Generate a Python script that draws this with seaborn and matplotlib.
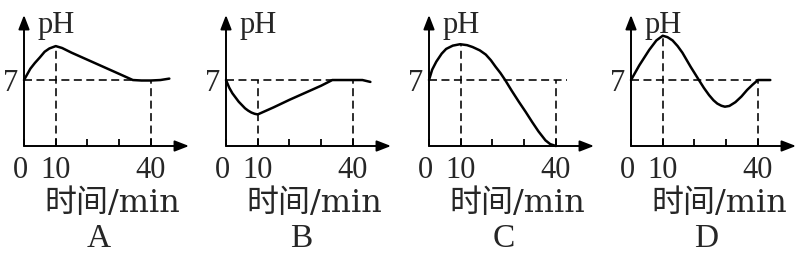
import numpy as np
import pandas as pd
import matplotlib
matplotlib.use('Agg')
import matplotlib.pyplot as plt
import matplotlib.transforms as mtransforms
import seaborn as sns

sns.set_style('white')
plt.rcParams['font.family'] = ['Liberation Serif', 'Noto Sans CJK SC']

# ---------------- data ----------------
panel_letters = ['A', 'B', 'C', 'D']
x_tick_values = [0, 10, 20, 30, 40]
x_tick_labels = ['0', '10', '', '', '40']
y_tick_values = [7]
y_tick_labels = ['7']
x_axis_label = '时间/min'
y_axis_label = 'pH'
neutral_ph = 7
marked_times = [10, 40]

time_a = [0, 1, 2, 3.4, 5, 6.5, 8, 10, 12, 15, 20, 25, 30, 34.3, 37, 40, 43, 45.8]
ph_a = [7, 7.6, 8.2, 8.8, 9.4, 10.0, 10.35, 10.6, 10.4, 9.9, 9.15, 8.4, 7.65, 7.0, 6.95, 6.95, 7.0, 7.15]

time_b = [0, 1, 2, 3, 4, 5, 6, 7, 8, 9, 10, 15, 20, 25, 30, 33.5, 37, 40, 43, 45.5]
ph_b = [7, 6.2, 5.6, 5.15, 4.7, 4.35, 4.0, 3.75, 3.55, 3.42, 3.35, 4.1, 4.9, 5.65, 6.4, 7.0, 7.0, 7.0, 7.0, 6.8]

time_c = [0, 1, 2.3, 4, 5.4, 7.5, 9.8, 12, 13.75, 16, 17.9, 19.5, 21, 22.5, 24, 26, 28.3, 30.5, 32.5, 34.5, 36.7, 38.2, 40]
ph_c = [7, 8.1, 8.95, 9.8, 10.3, 10.65, 10.8, 10.7, 10.5, 10.15, 9.7, 9.1, 8.4, 7.75, 7.0, 5.9, 4.7, 3.6, 2.55, 1.55, 0.6, 0.2, 0.0]

time_d = [0, 2.6, 5.75, 8, 10, 11.5, 13.1, 14.7, 16.2, 17.5, 18.8, 20.1, 21.4, 23, 24.6, 26, 27.2, 28.5, 29.6, 31, 32.9, 34.8, 36.6, 38.3, 40, 42, 43.9]
ph_d = [7, 8.55, 10.2, 11.2, 11.7, 11.55, 11.2, 10.6, 9.9, 9.15, 8.4, 7.7, 7.0, 6.15, 5.4, 4.85, 4.5, 4.27, 4.17, 4.25, 4.65, 5.25, 5.95, 6.5, 7.0, 7.0, 7.0]

# dashed guide extents
neutral_dash_end = [34.3, 33.5, 43.4, 43.9]
ten_min_dash_top = [10.6, 7.0, 10.8, 11.7]
forty_min_dash_top = [7.0, 7.0, 7.0, 7.0]

series_time = [time_a, time_b, time_c, time_d]
series_ph = [ph_a, ph_b, ph_c, ph_d]

# ---------------- layout ----------------
W, H, DPI = 798, 254, 100
fig = plt.figure(figsize=(W / DPI, H / DPI), dpi=DPI)
fig.patch.set_facecolor('white')

origins_x = [24, 226, 429, 631]
origin_y = 146
ax_w, ax_h = 165, 131
FS = 22

def offset_text(ax, s, dx, dy, **kw):
    tr = ax.transAxes + mtransforms.ScaledTranslation(dx / DPI, -dy / DPI, fig.dpi_scale_trans)
    ax.text(0, 0, s, transform=tr, **kw)

for i in range(4):
    ax = fig.add_axes([origins_x[i] / W, (H - origin_y) / H, ax_w / W, ax_h / H])
    ax.set_facecolor('none')
    for sp in ax.spines.values():
        sp.set_visible(False)
    ax.set_xlim(0, 52)
    ax.set_ylim(0, 13.9)

    df = pd.DataFrame({'t': series_time[i], 'ph': series_ph[i]})
    sns.lineplot(data=df, x='t', y='ph', ax=ax, color='black', linewidth=1.8,
                 sort=False, estimator=None, clip_on=False)

    dash = (0, (5.0, 2.8))
    ax.plot([0, neutral_dash_end[i]], [neutral_ph, neutral_ph], color='black',
            lw=1.15, linestyle=dash, clip_on=False)
    ax.plot([marked_times[0], marked_times[0]], [0, ten_min_dash_top[i]], color='black',
            lw=1.15, linestyle=dash, clip_on=False)
    ax.plot([marked_times[1], marked_times[1]], [0, forty_min_dash_top[i]], color='black',
            lw=1.15, linestyle=dash, clip_on=False)

    arrow = dict(arrowstyle='-|>,head_length=0.85,head_width=0.33', color='black',
                 lw=1.4, shrinkA=0, shrinkB=0, mutation_scale=10)
    ax.annotate('', xy=(1, 0), xytext=(0, 0), xycoords='axes fraction',
                textcoords='axes fraction', arrowprops=arrow, annotation_clip=False)
    ax.annotate('', xy=(0, 1), xytext=(0, 0), xycoords='axes fraction',
                textcoords='axes fraction', arrowprops=arrow, annotation_clip=False)

    ax.set_xticks(x_tick_values)
    ax.set_xticklabels(x_tick_labels)
    ax.set_yticks(y_tick_values)
    ax.set_yticklabels(y_tick_labels)
    ax.tick_params(axis='x', direction='in', length=5, width=1.3, color='black',
                   pad=7.0, labelsize=FS, bottom=True)
    ax.tick_params(axis='y', length=0, pad=4.0, labelsize=FS, left=True)
    lbl0 = ax.get_xticklabels()[0]
    lbl0.set_transform(lbl0.get_transform() +
                       mtransforms.ScaledTranslation(-4 / DPI, 0, fig.dpi_scale_trans))
    ax.set_xlabel('')
    ax.set_ylabel('')
    ax.grid(False)

    offset_text(ax, y_axis_label, 14, -113, ha='left', va='baseline', fontsize=FS)
    offset_text(ax, x_axis_label, 88, 66, ha='center', va='baseline', fontsize=23,
                family=['DejaVu Serif', 'Noto Sans CJK SC'])
    offset_text(ax, panel_letters[i], 75, 108, ha='center', va='bottom', fontsize=24)

fig.savefig('out.png', dpi=DPI, facecolor='white')
